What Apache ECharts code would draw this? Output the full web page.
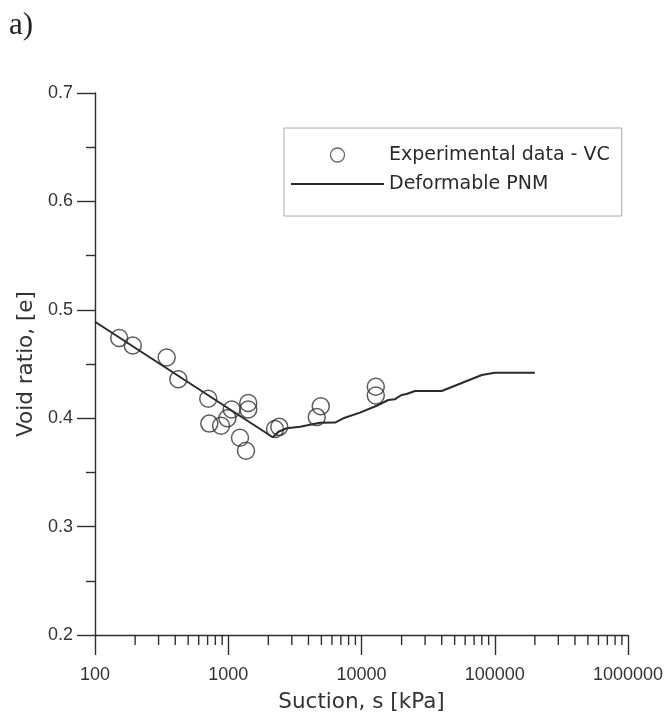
<!DOCTYPE html>
<html>
<head>
<meta charset="utf-8">
<title>Void ratio vs suction</title>
<script src="https://cdn.jsdelivr.net/npm/echarts@6/dist/echarts.min.js"></script>
<style>
  html, body { margin: 0; padding: 0; background: #fff; }
  #chart { width: 667px; height: 719px; }
</style>
</head>
<body>
<div id="chart"></div>
<script>
// Measured void ratio (vapour-compression tests)
const expSuction = [152, 192, 345, 422, 708, 721, 883, 985, 1062, 1413, 1413, 1225, 1359, 2244, 2415, 4613, 4945, 12800, 12800];
const expVoidRatio = [0.474, 0.467, 0.456, 0.436, 0.418, 0.395, 0.393, 0.400, 0.408, 0.414, 0.408, 0.382, 0.370, 0.390, 0.392, 0.401, 0.411, 0.429, 0.421];

// Deformable pore-network model prediction
const pnmSuction = [100, 2160, 2380, 2750, 3460, 4880, 6330, 7300, 9740, 13000, 15900, 17800, 18700, 20000, 21800, 25200, 40000, 80000, 100000, 200000];
const pnmVoidRatio = [0.489, 0.3824, 0.3875, 0.3907, 0.3922, 0.3958, 0.3960, 0.3999, 0.4051, 0.4115, 0.4168, 0.4174, 0.4193, 0.4214, 0.4223, 0.4251, 0.4251, 0.4399, 0.4420, 0.4420];

// Axis ticks
const xDecades = [100, 1000, 10000, 100000, 1000000];
const xMinorTicks = [];
for (let d = 100; d < 1000000; d *= 10) {
  for (let m = 2; m <= 9; m++) xMinorTicks.push(m * d);
}
const yTicks = [0.2, 0.3, 0.4, 0.5, 0.6, 0.7];

const ink = '#2e2e2e';
const labelFont = 'Liberation Sans, Arial, sans-serif';
const titleFont = 'DejaVu Sans, sans-serif';

const chart = echarts.init(document.getElementById('chart'), null, { renderer: 'canvas' });

chart.setOption({
  animation: false,
  backgroundColor: '#fff',
  title: {
    text: 'a)',
    left: 4,
    top: 5,
    textStyle: { fontFamily: 'Liberation Serif, Times New Roman, serif', fontSize: 31, fontWeight: 'normal', color: '#222' }
  },
  grid: { left: 95, right: 39, top: 93, bottom: 84, containLabel: false },
  legend: {
    left: 284,
    top: 128,
    orient: 'vertical',
    padding: [16, 12, 21, 6],
    itemGap: 7,
    itemWidth: 93,
    itemHeight: 14,
    borderColor: '#a8a8a8',
    borderWidth: 1,
    borderRadius: 0,
    textStyle: { fontFamily: titleFont, fontSize: 19, lineHeight: 22, color: '#2a2a2a' },
    data: [
      { name: 'Experimental data - VC', icon: 'circle', itemStyle: { color: 'rgba(0,0,0,0)', borderColor: '#444', borderWidth: 1.3 } },
      { name: 'Deformable PNM', itemStyle: { opacity: 0 }, lineStyle: { color: '#2a2a2a', width: 2, opacity: 1 } }
    ]
  },
  xAxis: {
    type: 'log',
    logBase: 10,
    min: xDecades[0],
    max: xDecades[xDecades.length - 1],
    name: 'Suction, s [kPa]',
    nameLocation: 'middle',
    nameGap: 56,
    nameTextStyle: { fontFamily: titleFont, fontSize: 21.5, color: '#333' },
    axisLine: { show: true, onZero: false, lineStyle: { color: ink, width: 1.4 } },
    axisTick: { show: true, inside: false, length: 20, lineStyle: { color: ink, width: 1.4 } },
    axisLabel: {
      margin: 31,
      fontFamily: labelFont,
      fontSize: 18,
      color: '#333',
      formatter: function (v) {
        const r = Math.round(v);
        return xDecades.indexOf(r) >= 0 ? String(r) : '';
      }
    },
    splitLine: { show: false }
  },
  yAxis: {
    type: 'value',
    min: yTicks[0],
    max: yTicks[yTicks.length - 1],
    interval: 0.1,
    name: 'Void ratio, [e]',
    nameLocation: 'middle',
    nameGap: 56,
    nameTextStyle: { fontFamily: titleFont, fontSize: 21.5, color: '#333' },
    axisLine: { show: true, lineStyle: { color: ink, width: 1.4 } },
    axisTick: { show: true, inside: false, length: 18, lineStyle: { color: ink, width: 1.4 } },
    minorTick: { show: true, splitNumber: 2, length: 9, lineStyle: { color: ink, width: 1.4 } },
    axisLabel: {
      margin: 22,
      fontFamily: labelFont,
      fontSize: 18,
      color: '#333',
      formatter: function (v) { return v.toFixed(1); }
    },
    splitLine: { show: false },
    minorSplitLine: { show: false }
  },
  series: [
    {
      name: 'Deformable PNM',
      type: 'line',
      data: pnmSuction.map((s, i) => [s, pnmVoidRatio[i]]),
      symbol: 'none',
      lineStyle: { color: '#2a2a2a', width: 2 },
      itemStyle: { color: '#2a2a2a' },
      z: 3
    },
    {
      name: 'Experimental data - VC',
      type: 'scatter',
      data: expSuction.map((s, i) => [s, expVoidRatio[i]]),
      symbol: 'circle',
      symbolSize: 17,
      itemStyle: { color: 'rgba(0,0,0,0)', borderColor: '#333', borderWidth: 1.5 },
      z: 4
    },
    {
      // minor ticks of the logarithmic suction axis (2..9 per decade)
      name: 'xMinorTicks',
      type: 'custom',
      clip: false,
      silent: true,
      data: xMinorTicks.map(v => [v, yTicks[0]]),
      encode: { x: 0, y: 1 },
      renderItem: function (params, api) {
        const p = api.coord([api.value(0), api.value(1)]);
        return {
          type: 'line',
          shape: { x1: p[0], y1: p[1], x2: p[0], y2: p[1] + 10 },
          style: { stroke: ink, lineWidth: 1.4 }
        };
      },
      z: 2
    }
  ]
});
</script>
</body>
</html>
